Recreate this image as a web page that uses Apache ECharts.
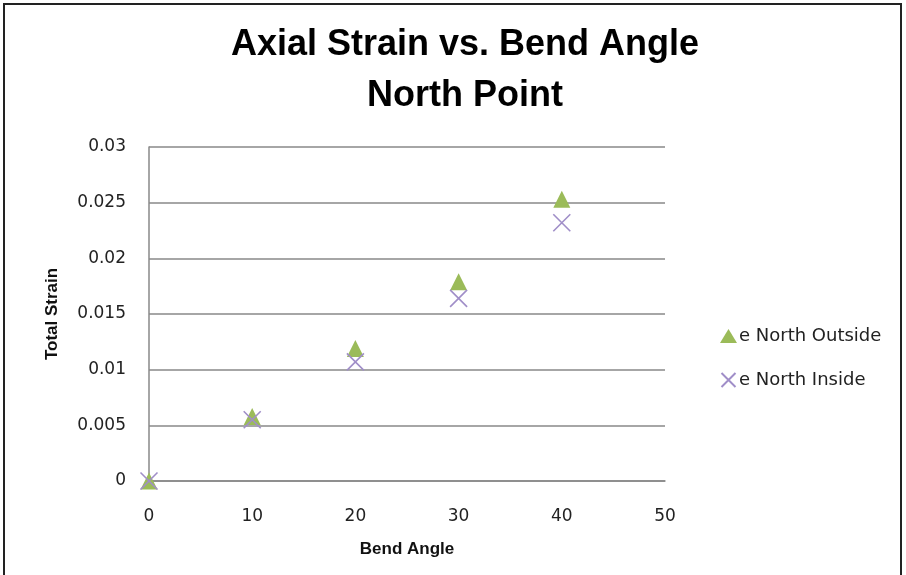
<!DOCTYPE html>
<html>
<head>
<meta charset="utf-8">
<script src="https://cdn.jsdelivr.net/npm/echarts@6/dist/echarts.min.js"></script>
<style>
  html, body { margin: 0; padding: 0; background: #fff; }
  #frame { position: absolute; left: 3px; top: 3px; width: 899px; height: 575px; border: 2px solid #222; border-bottom: none; box-sizing: border-box; pointer-events: none; }
  #chart { width: 906px; height: 575px; }
</style>
</head>
<body>
<div id="chart"></div>
<div id="frame"></div>
<script>
// bend angle (deg)
const angles = [0, 10, 20, 30, 40];
// total strain
const northOutside = [0, 0.0058, 0.0119, 0.0179, 0.0253];
const northInside = [0, 0.0055, 0.0107, 0.0164, 0.0232];
const seriesNames = ['e North Outside', 'e North Inside'];
const yTicks = [0, 0.005, 0.01, 0.015, 0.02, 0.025, 0.03];

const crossPath = 'path://M0,0 L10,10 M10,0 L0,10';
const tickFont = '"DejaVu Sans", sans-serif';
const boldFont = '"Liberation Sans", Arial, sans-serif';

const chart = echarts.init(document.getElementById('chart'));

chart.setOption({
  backgroundColor: '#fff',
  animation: false,
  title: {
    text: 'Axial Strain vs. Bend Angle\nNorth Point',
    left: 460,
    top: 15,
    textAlign: 'center',
    textStyle: {
      fontFamily: '"Liberation Sans Narrow", "Liberation Sans", sans-serif',
      fontSize: 36,
      fontWeight: 'bold',
      color: '#000',
      lineHeight: 51
    }
  },
  legend: {
    orient: 'vertical',
    left: 714,
    top: 321,
    itemGap: 24,
    itemWidth: 17,
    itemHeight: 14,
    textStyle: { fontFamily: tickFont, fontSize: 18, lineHeight: 20, color: '#222', padding: [0, 0, 0, -3] },
    data: [
      { name: seriesNames[0], icon: 'triangle' },
      { name: seriesNames[1] }
    ]
  },
  grid: { left: 149, right: 241, top: 147, bottom: 94 },
  xAxis: {
    type: 'value',
    min: 0,
    max: 50,
    interval: 10,
    name: 'Bend Angle',
    nameLocation: 'middle',
    nameGap: 60,
    nameTextStyle: { fontFamily: boldFont, fontSize: 17, fontWeight: 'bold', color: '#111' },
    axisLine: { lineStyle: { color: '#888', width: 1.5 } },
    axisTick: { show: false },
    axisLabel: { fontFamily: tickFont, fontSize: 17, color: '#222', margin: 27 },
    splitLine: { show: false }
  },
  yAxis: {
    type: 'value',
    min: 0,
    max: 0.03,
    interval: 0.005,
    name: 'Total Strain',
    nameLocation: 'middle',
    nameGap: 88,
    nameTextStyle: { fontFamily: boldFont, fontSize: 17, fontWeight: 'bold', color: '#111' },
    axisLine: { show: true, lineStyle: { color: '#888', width: 1.5 } },
    axisTick: { show: false },
    axisLabel: {
      fontFamily: tickFont, fontSize: 17, color: '#222', margin: 23, padding: [8, 0, 0, 0],
      formatter: v => yTicks.includes(+v.toFixed(3)) ? String(+v.toFixed(3)) : ''
    },
    splitLine: { lineStyle: { color: '#888', width: 1.5 } }
  },
  series: [
    {
      name: seriesNames[0],
      type: 'scatter',
      symbol: 'triangle',
      symbolSize: [17, 17],
      itemStyle: { color: '#9bbb59', opacity: 1 },
      data: angles.map((a, i) => [a, northOutside[i]])
    },
    {
      name: seriesNames[1],
      type: 'scatter',
      symbol: crossPath,
      symbolSize: 17,
      itemStyle: { color: 'none', borderColor: '#a08ec8', borderWidth: 1.6, opacity: 1 },
      data: angles.map((a, i) => [a, northInside[i]])
    }
  ]
});
</script>
</body>
</html>
